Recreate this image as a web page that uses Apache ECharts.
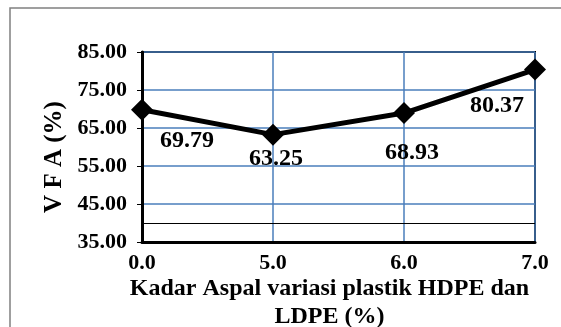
<!DOCTYPE html>
<html>
<head>
<meta charset="utf-8">
<script src="https://cdn.jsdelivr.net/npm/echarts@6/dist/echarts.min.js"></script>
<style>
  html, body { margin: 0; padding: 0; background: #fff; }
  #chart { width: 561px; height: 327px; }
</style>
</head>
<body>
<div id="chart"></div>
<script>
// data
var categories = ['0.0', '5.0', '6.0', '7.0']
var vfa = [69.79, 63.25, 68.93, 80.37]
var refLine = 40

// label offsets per point (style only)
var labelOffsets = [[45, 31], [3, 24], [8, 40], [-38, 36]]

var FONT = '"Liberation Serif", "Times New Roman", serif'

var chart = echarts.init(document.getElementById('chart'))

var seriesData = vfa.map(function (v, i) {
  return {
    value: v,
    label: { offset: labelOffsets[i] }
  }
})

chart.setOption({
  animation: false,
  graphic: [{
    type: 'rect',
    shape: { x: 10, y: 8, width: 600, height: 400 },
    style: { fill: 'none', stroke: '#808080', lineWidth: 1.5 },
    z: 0
  }],
  grid: {
    left: 142,
    right: 26,
    top: 52,
    bottom: 85,
    outerBoundsMode: 'none',
    show: true,
    borderColor: '#000',
    borderWidth: 2
  },
  xAxis: {
    type: 'category',
    data: categories,
    boundaryGap: false,
    name: 'Kadar Aspal variasi plastik HDPE dan\nLDPE (%)',
    nameLocation: 'middle',
    nameGap: 33,
    nameMoveOverlap: false,
    nameTextStyle: {
      fontFamily: FONT, fontWeight: 'bold', fontSize: 24, color: '#000',
      lineHeight: 28, padding: [0, 18, 0, 0], verticalAlign: 'top'
    },
    axisLine: { lineStyle: { color: '#000', width: 3 } },
    axisTick: { show: false },
    axisLabel: {
      fontFamily: FONT, fontWeight: 'bold', fontSize: 22, color: '#000', margin: 10
    },
    splitLine: { show: true, lineStyle: { color: '#4a7ebb', width: 1.5 } }
  },
  yAxis: {
    type: 'value',
    min: 35,
    max: 85,
    interval: 10,
    name: 'V F A (%)',
    nameLocation: 'middle',
    nameGap: 75,
    nameMoveOverlap: false,
    nameTextStyle: {
      fontFamily: FONT, fontWeight: 'bold', fontSize: 25, color: '#000',
      padding: [0, 20, 0, 0]
    },
    axisLine: { show: true, lineStyle: { color: '#000', width: 3 } },
    axisTick: { show: true, length: 5, lineStyle: { color: '#000', width: 1 } },
    axisLabel: {
      fontFamily: FONT, fontWeight: 'bold', fontSize: 22, color: '#000', margin: 15,
      formatter: function (v) { return v.toFixed(2) }
    },
    splitLine: { show: true, lineStyle: { color: '#4a7ebb', width: 1.5 } }
  },
  series: [{
    type: 'line',
    data: seriesData,
    symbol: 'diamond',
    symbolSize: 22,
    itemStyle: { color: '#000' },
    lineStyle: { color: '#000', width: 5 },
    label: {
      show: true,
      position: 'inside',
      fontFamily: FONT, fontWeight: 'bold', fontSize: 24, color: '#000',
      formatter: function (p) { return p.value.toFixed(2) }
    },
    markLine: {
      silent: true,
      symbol: 'none',
      label: { show: false },
      lineStyle: { color: '#000', width: 1, type: 'solid' },
      data: [{ yAxis: refLine }]
    },
    z: 3
  }]
})
</script>
</body>
</html>
